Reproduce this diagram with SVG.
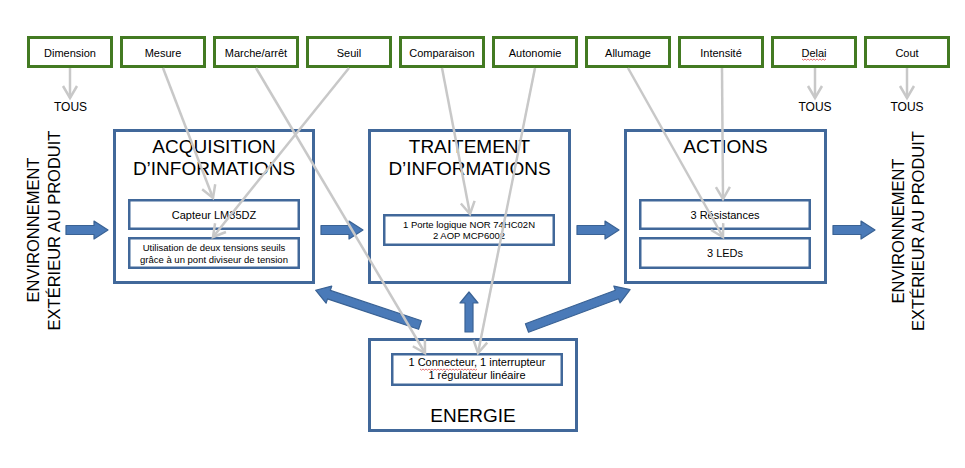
<svg xmlns="http://www.w3.org/2000/svg" width="965" height="468" viewBox="0 0 965 468">
<style>
text{font-family:"Liberation Sans",Arial,sans-serif;fill:#000}
.top rect{fill:#fff;stroke:#437a22;stroke-width:3}
.top text{font-size:11px;text-anchor:middle}
.blk{fill:#fff;stroke:#41689a;stroke-width:3}
.inn{fill:#fff;stroke:#41689a;stroke-width:2.5}
.title{font-size:19px;text-anchor:middle}
.lbl{font-size:11px;text-anchor:middle}
.sml{font-size:9.5px;text-anchor:middle}
.env{font-size:16.5px;text-anchor:middle}
.tous{font-size:12px;text-anchor:middle}
.barrow{fill:#4a7ab8;stroke:#3a6294;stroke-width:1.2;stroke-linejoin:round}
.conn line{stroke:#c8c8c8;stroke-width:2.5;fill:none}
.sq{fill:none;stroke:#e05050;stroke-width:0.8}
</style>
<defs>
<marker id="chev" markerUnits="userSpaceOnUse" markerWidth="18" markerHeight="18" viewBox="0 0 18 18" refX="15" refY="9" orient="auto">
<path d="M3,2 L15,9 L3,16" fill="none" stroke="#c8c8c8" stroke-width="2.5"/>
</marker>
<path id="harrow" d="M0,-4.5 H28 V-9 L42,0 L28,9 V4.5 H0 Z"/>
<path id="darrow" d="M0,-4.5 H96 V-9 L110,0 L96,9 V4.5 H0 Z"/>
<path id="varrow" d="M0,-4 H29 V-9 L40,0 L29,9 V4 H0 Z"/>
</defs>

<g id="criteria" class="top">
<g id="n-dimension"><rect x="28.5" y="37.5" width="83" height="29"/><text x="70" y="56.5">Dimension</text></g>
<g id="n-mesure"><rect x="121.5" y="37.5" width="83" height="29"/><text x="163" y="56.5">Mesure</text></g>
<g id="n-marche"><rect x="214.5" y="37.5" width="83" height="29"/><text x="256" y="56.5">Marche/arrêt</text></g>
<g id="n-seuil"><rect x="307.5" y="37.5" width="83" height="29"/><text x="349" y="56.5">Seuil</text></g>
<g id="n-comparaison"><rect x="400.5" y="37.5" width="83" height="29"/><text x="442" y="56.5">Comparaison</text></g>
<g id="n-autonomie"><rect x="493.5" y="37.5" width="83" height="29"/><text x="535" y="56.5">Autonomie</text></g>
<g id="n-allumage"><rect x="586.5" y="37.5" width="83" height="29"/><text x="628" y="56.5">Allumage</text></g>
<g id="n-intensite"><rect x="679.5" y="37.5" width="83" height="29"/><text x="721" y="56.5">Intensité</text></g>
<g id="n-delai"><rect x="772.5" y="37.5" width="83" height="29"/><text x="814" y="56.5">Delai</text>
<path class="sq" d="M802,59 l1.5,1.2 l1.5,-1.2 l1.5,1.2 l1.5,-1.2 l1.5,1.2 l1.5,-1.2 l1.5,1.2 l1.5,-1.2 l1.5,1.2 l1.5,-1.2 l1.5,1.2 l1.5,-1.2 l1.5,1.2 l1.5,-1.2 l1.5,1.2 l1.5,-1.2"/></g>
<g id="n-cout"><rect x="865.5" y="37.5" width="83" height="29"/><text x="907" y="56.5">Cout</text></g>
</g>

<g id="tous-labels">
<text class="tous" x="70.5" y="111">TOUS</text>
<text class="tous" x="815" y="111">TOUS</text>
<text class="tous" x="907" y="111">TOUS</text>
</g>

<g id="env-left">
<text class="env" x="39" y="230" transform="rotate(-90 39 230)">ENVIRONNEMENT</text>
<text class="env" x="60" y="230.5" transform="rotate(-90 60 230.5)">EXTÉRIEUR AU PRODUIT</text>
</g>
<g id="env-right">
<text class="env" x="904" y="231" transform="rotate(-90 904 231)">ENVIRONNEMENT</text>
<text class="env" x="924" y="231" transform="rotate(-90 924 231)">EXTÉRIEUR AU PRODUIT</text>
</g>

<g id="n-acquisition">
<rect class="blk" x="114.5" y="130.5" width="199" height="152"/>
<text class="title" x="214" y="153">ACQUISITION</text>
<text class="title" x="214" y="175">D’INFORMATIONS</text>
<rect class="inn" x="129.25" y="200.25" width="169.5" height="28.5"/>
<text class="lbl" x="214" y="219">Capteur LM35DZ</text>
<rect class="inn" x="129.25" y="238.25" width="169.5" height="29.5"/>
<text class="sml" x="214" y="251">Utilisation de deux tensions seuils</text>
<text class="sml" x="214" y="262.5">grâce à un pont diviseur de tension</text>
</g>

<g id="n-traitement">
<rect class="blk" x="369.5" y="130.5" width="200" height="152"/>
<text class="title" x="469.5" y="153">TRAITEMENT</text>
<text class="title" x="469.5" y="175">D’INFORMATIONS</text>
<rect class="inn" x="384.25" y="215.25" width="169.5" height="29.5"/>
<text class="sml" x="469" y="228">1 Porte logique NOR 74HC02N</text>
<text class="sml" x="469" y="239">2 AOP MCP6002</text>
</g>

<g id="n-actions">
<rect class="blk" x="625.5" y="130.5" width="200" height="152"/>
<text class="title" x="725.5" y="153">ACTIONS</text>
<rect class="inn" x="640.25" y="200.25" width="169.5" height="28.5"/>
<text class="lbl" x="725" y="219">3 Résistances</text>
<rect class="inn" x="640.25" y="238.25" width="169.5" height="29.5"/>
<text class="lbl" x="725" y="257">3 LEDs</text>
</g>

<g id="n-energie">
<rect class="blk" x="369.5" y="339.5" width="207" height="91"/>
<rect class="inn" x="392.25" y="354.25" width="169.5" height="30.5"/>
<text class="lbl" x="477" y="366">1 Connecteur, 1 interrupteur</text>
<path class="sq" d="M420,369 l1.5,1.2 l1.5,-1.2 l1.5,1.2 l1.5,-1.2 l1.5,1.2 l1.5,-1.2 l1.5,1.2 l1.5,-1.2 l1.5,1.2 l1.5,-1.2 l1.5,1.2 l1.5,-1.2 l1.5,1.2 l1.5,-1.2 l1.5,1.2 l1.5,-1.2 l1.5,1.2 l1.5,-1.2 l1.5,1.2 l1.5,-1.2 l1.5,1.2 l1.5,-1.2 l1.5,1.2 l1.5,-1.2 l1.5,1.2 l1.5,-1.2 l1.5,1.2 l1.5,-1.2 l1.5,1.2 l1.5,-1.2 l1.5,1.2 l1.5,-1.2 l1.5,1.2 l1.5,-1.2 l1.5,1.2 l1.5,-1.2 l1.5,1.2 l1.5,-1.2"/>
<text class="lbl" x="477" y="379">1 régulateur linéaire</text>
<text class="title" x="473" y="422">ENERGIE</text>
</g>

<g id="flow-arrows" class="barrow">
<use href="#harrow" transform="translate(66,230)"/>
<use href="#harrow" transform="translate(321,230)"/>
<use href="#harrow" transform="translate(577,230)"/>
<use href="#harrow" transform="translate(833,230)"/>
<use href="#darrow" transform="translate(420,325) rotate(198.43)"/>
<use href="#varrow" transform="translate(469,332) rotate(-90)"/>
<use href="#darrow" transform="translate(527,328) rotate(-20.43)"/>
</g>

<g id="connectors" class="conn">
<line x1="70" y1="68" x2="70" y2="98" marker-end="url(#chev)"/>
<line x1="815" y1="68" x2="815" y2="98" marker-end="url(#chev)"/>
<line x1="907" y1="68" x2="907" y2="98" marker-end="url(#chev)"/>
<line x1="163" y1="68" x2="213" y2="198" marker-end="url(#chev)"/>
<line x1="349" y1="68" x2="213" y2="237" marker-end="url(#chev)"/>
<line x1="256" y1="68" x2="425" y2="353" marker-end="url(#chev)"/>
<line x1="442" y1="68" x2="470" y2="214" marker-end="url(#chev)"/>
<line x1="535" y1="68" x2="478" y2="353" marker-end="url(#chev)"/>
<line x1="628" y1="68" x2="723" y2="237" marker-end="url(#chev)"/>
<line x1="722" y1="68" x2="723" y2="199" marker-end="url(#chev)"/>
</g>
</svg>
